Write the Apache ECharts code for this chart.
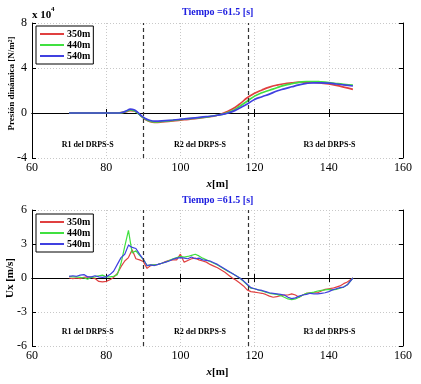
<!DOCTYPE html>
<html><head><meta charset="utf-8">
<script src="https://cdn.jsdelivr.net/npm/echarts@6/dist/echarts.min.js"></script>
<style>html,body{margin:0;padding:0;background:#fff}#c{width:421px;height:384px}</style>
</head><body><div id="c"></div>
<script>
var seriesNames = ['350m','440m','540m'];
var colors = ['#e04040','#40e040','#4040e0'];
var xTicks = [60,80,100,120,140,160];
var pTicks = [-4,0,4,8];
var uTicks = [-6,-3,0,3,6];
var dividers = [90,118.4];
var regionNames = ['R1 del DRPS-S','R2 del DRPS-S','R3 del DRPS-S'];
var regionX = [75,105.3,140.2];

// Pressure (x 10^4 N/m2)
var xP = [70,75,80,83,84.5,85.5,86.5,87.5,88.5,89.5,90.5,91.5,93,95,98,101,104,107,110,112,114,116,118,120,122,124,126,128,130,132,134,136,138,140,142,144,146.5];
var p350 = [0,0,0,0,0.05,0.12,0.22,0.18,0,-0.3,-0.55,-0.72,-0.83,-0.8,-0.7,-0.6,-0.5,-0.38,-0.2,0.05,0.35,0.8,1.35,1.75,2.05,2.3,2.48,2.6,2.68,2.74,2.75,2.72,2.66,2.58,2.45,2.3,2.1];
var p440 = [0,0,0,0,0.05,0.15,0.27,0.2,0,-0.3,-0.52,-0.68,-0.78,-0.75,-0.65,-0.55,-0.45,-0.35,-0.2,-0.05,0.2,0.6,1.05,1.5,1.8,2.02,2.25,2.45,2.6,2.72,2.8,2.8,2.76,2.7,2.62,2.55,2.48];
var p540 = [0,0,0,0,0.07,0.2,0.35,0.28,0.05,-0.25,-0.48,-0.62,-0.72,-0.7,-0.62,-0.53,-0.43,-0.33,-0.2,-0.08,0.12,0.45,0.8,1.2,1.45,1.68,1.95,2.15,2.33,2.5,2.63,2.68,2.68,2.65,2.58,2.5,2.4];

// Ux (m/s)
var xU = [70,71,72,73,74,75,76,77,78,79,80,81,82,83,84,85,86,87,88,89,90,91,92,93,94,95,96,97,98,99,100,101,102,103,104,105,106,107,108,109,110,111,112,113,114,115,116,117,118,119,120,121,122,123,124,125,126,127,128,129,130,131,132,133,134,135,136,137,138,139,140,141,142,143,144,145,146.5];
var u350 = [0,-0.05,0,-0.05,0.05,0.1,0.05,-0.05,-0.3,-0.35,-0.3,-0.15,0.05,0.4,1.0,1.5,1.8,2.5,1.7,1.6,1.45,0.85,1.1,1.15,1.2,1.3,1.45,1.55,1.6,1.6,2.1,1.4,1.55,1.7,1.75,1.6,1.5,1.4,1.2,1.05,0.9,0.7,0.5,0.25,0,-0.2,-0.45,-0.7,-1.05,-1.2,-1.25,-1.3,-1.35,-1.45,-1.6,-1.7,-1.65,-1.55,-1.5,-1.5,-1.4,-1.5,-1.7,-1.5,-1.35,-1.3,-1.3,-1.3,-1.15,-1.0,-0.95,-0.9,-0.8,-0.7,-0.5,-0.35,0];
var u440 = [0.15,0.1,0.1,0.05,0,-0.1,0.05,0.1,0.2,0.25,0.1,0.1,0.15,0.3,1.3,2.8,4.2,2.2,2.4,2.0,1.65,1.1,1.15,1.15,1.2,1.3,1.4,1.55,1.7,1.8,1.9,1.85,1.9,2.0,2.1,1.95,1.75,1.6,1.45,1.3,1.15,0.95,0.75,0.55,0.4,0.2,0,-0.3,-0.6,-0.9,-0.95,-1.05,-1.15,-1.25,-1.35,-1.4,-1.45,-1.55,-1.7,-1.85,-1.9,-1.85,-1.7,-1.5,-1.35,-1.3,-1.25,-1.15,-1.1,-1.05,-1.0,-1.05,-1.0,-0.9,-0.8,-0.6,0];
var u540 = [0.15,0.2,0.15,0.25,0.3,0.1,0.1,0.2,0.1,0.05,0.1,0.3,0.6,1.2,1.8,2.1,2.9,2.7,2.6,2.1,1.65,1.1,1.15,1.1,1.2,1.3,1.4,1.5,1.65,1.75,1.8,1.75,1.7,1.85,1.7,1.75,1.6,1.55,1.5,1.35,1.2,1.0,0.8,0.6,0.4,0.2,0,-0.25,-0.55,-0.85,-0.95,-1.05,-1.1,-1.2,-1.3,-1.35,-1.4,-1.45,-1.5,-1.7,-1.82,-1.75,-1.6,-1.5,-1.45,-1.35,-1.4,-1.4,-1.35,-1.3,-1.2,-1.05,-0.95,-0.85,-0.8,-0.6,0];

function zip(xs, ys){ return xs.map(function(x,i){ return [x, ys[i]]; }); }

var FONT = '"Liberation Serif","DejaVu Serif",serif';
var chart = echarts.init(document.getElementById('c'), null, {renderer:'canvas'});

function xAx(gi, showLabel){
  return {
    type:'value', gridIndex:gi, min:xTicks[0], max:xTicks[xTicks.length-1], interval:20,
    position: showLabel ? 'bottom' : 'top',
    axisLine:{show:true, lineStyle:{color:'#000', width:1}},
    axisTick:{show:true, inside:true, length:4, lineStyle:{color:'#000'}},
    axisLabel:{show:showLabel, color:'#000', fontFamily:FONT, fontSize:12, margin:4},
    splitLine:{show:showLabel, lineStyle:{color:'#c8c8c8', type:[1,2], width:1}},
    name: showLabel ? '{i|x}[m]' : '',
    nameLocation:'middle', nameGap:21, nameMoveOverlap:false,
    nameTextStyle:{color:'#000', fontFamily:FONT, fontSize:11, fontWeight:'bold',
      rich:{i:{fontStyle:'italic', fontFamily:FONT, fontSize:11, fontWeight:'bold', color:'#000'}}}
  };
}
function yAx(gi, ticks, showLabel, name, nameSize, nameGap, namePad){
  var step = ticks[1]-ticks[0];
  return {
    type:'value', gridIndex:gi, min:ticks[0], max:ticks[ticks.length-1], interval:step,
    position: showLabel ? 'left' : 'right',
    axisLine:{show:true, lineStyle:{color:'#000', width:1}},
    axisTick:{show:true, inside:true, length:4, lineStyle:{color:'#000'}},
    axisLabel:{show:showLabel, color:'#000', fontFamily:FONT, fontSize:12, margin:5},
    splitLine:{show:showLabel, lineStyle:{color:'#c8c8c8', type:[1,2], width:1}},
    name: showLabel ? name : '',
    nameLocation:'middle', nameGap:nameGap, nameMoveOverlap:false,
    nameTextStyle:{color:'#000', fontFamily:FONT, fontSize:nameSize, fontWeight:'bold', padding:namePad || 0}
  };
}

function lineSeries(name, color, xi, yi, data, smooth, width){
  return {
    type:'line', name:name, xAxisIndex:xi, yAxisIndex:yi, data:data,
    showSymbol:false, symbol:'none', smooth:smooth,
    lineStyle:{color:color, width:width}, itemStyle:{color:color}, z:3
  };
}

function helper(xi, yi, labelY){
  return {
    type:'line', name:'helper'+xi, xAxisIndex:xi, yAxisIndex:yi, data:[], symbol:'none',
    markLine:{silent:true, symbol:['none','none'], label:{show:false},
      lineStyle:{color:'#333', type:[4,3], width:1.2},
      data: dividers.map(function(d){ return {xAxis:d}; })},
    markPoint:{silent:true, symbol:'circle', symbolSize:0,
      label:{show:true, position:'inside', formatter:'{b}', color:'#000', fontFamily:FONT, fontSize:8, fontWeight:'bold'},
      data: regionNames.map(function(n,i){ return {name:n, coord:[regionX[i], labelY]}; })}
  };
}

var pData = [p350,p440,p540];
var uData = [u350,u440,u540];
var series = [];
seriesNames.forEach(function(n,i){ series.push(lineSeries(n, colors[i], 0, 0, zip(xP, pData[i]), true, 1.7)); });
seriesNames.forEach(function(n,i){ series.push(lineSeries(n, colors[i], 2, 2, zip(xU, uData[i]), false, 1.2)); });
series.push(helper(0,0,-2.8));
series.push(helper(2,2,-4.77));

function legendAt(top){
  return {
    data: seriesNames.map(function(n){ return {name:n, icon:'rect'}; }),
    orient:'vertical', left:36, top:top,
    itemWidth:24, itemHeight:2, itemGap:1,
    padding:[3,3,3,4],
    borderColor:'#000', borderWidth:1, backgroundColor:'#fff',
    textStyle:{color:'#000', fontFamily:FONT, fontSize:10, fontWeight:'bold', padding:[0,0,0,-2]},
    selectedMode:false
  };
}

var option = {
  animation:false,
  backgroundColor:'#fff',
  title:[
    {text:'Tiempo =61.5 [s]', left:182, top:7, padding:0, textStyle:{color:'#2020e0', fontFamily:FONT, fontSize:10, fontWeight:'bold'}},
    {text:'Tiempo =61.5 [s]', left:182, top:195, padding:0, textStyle:{color:'#2020e0', fontFamily:FONT, fontSize:10, fontWeight:'bold'}}
  ],
  grid:[
    {left:32, top:23, width:371, height:135, show:false, containLabel:false, outerBoundsMode:'none'},
    {left:32, top:210, width:371, height:136, show:false, containLabel:false, outerBoundsMode:'none'}
  ],
  legend:[legendAt(26), legendAt(214)],
  xAxis:[xAx(0,true), xAx(0,false), xAx(1,true), xAx(1,false)],
  yAxis:[yAx(0,pTicks,true,'Presión dinámica [N/m²]',9,16,[0,0,0,14]), yAx(0,pTicks,false,'',9,0),
         yAx(1,uTicks,true,'Ux [m/s]',11,16), yAx(1,uTicks,false,'',11,0)],
  graphic:[
    {type:'text', left:32, top:10, style:{text:'x 10', font:'bold 11px '+FONT, fill:'#000'}},
    {type:'text', left:51, top:6, style:{text:'4', font:'bold 7px '+FONT, fill:'#000'}}
  ],
  series:series
};
chart.setOption(option);
</script>
</body></html>
